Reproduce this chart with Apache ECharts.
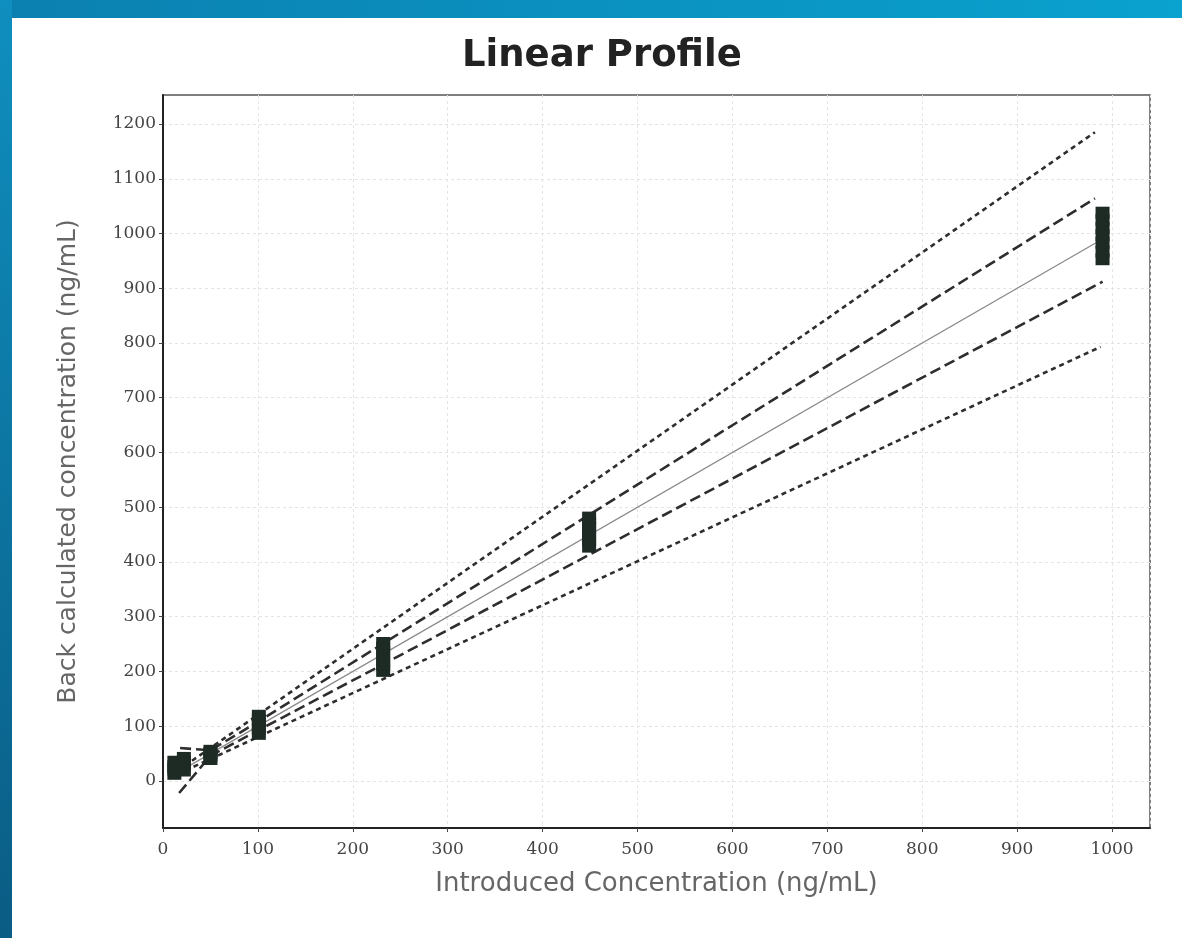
<!DOCTYPE html>
<html>
<head>
<meta charset="utf-8">
<script src="https://cdn.jsdelivr.net/npm/echarts@6/dist/echarts.min.js"></script>
<style>
html,body{margin:0;padding:0;background:#fff;}
#chart{width:1182px;height:938px;}
</style>
</head>
<body>
<div id="chart"></div>
<script>
// ---- data ----
const xTickLabels = [0, 100, 200, 300, 400, 500, 600, 700, 800, 900, 1000];
const yTickLabels = [0, 100, 200, 300, 400, 500, 600, 700, 800, 900, 1000, 1100, 1200];

// back-calculated replicates per introduced level: [introduced, backCalculated]
const replicates = [
  [12, 13], [12, 21], [12, 27], [12, 35],
  [22, 19], [22, 29], [22, 36], [22, 42],
  [50, 40], [50, 46], [50, 51], [50, 55],
  [101, 86], [101, 95], [101, 103], [101, 111], [101, 119],
  [232, 201], [232, 212], [232, 221], [232, 233], [232, 243], [232, 252],
  [449, 428], [449, 440], [449, 449], [449, 462], [449, 471], [449, 481],
  [990, 953], [990, 967], [990, 983], [990, 997], [990, 1010], [990, 1025], [990, 1038]
];

// identity (regression) line
const identityLine = [[12, 12], [985, 985]];
// inner (tolerance) limits, long dashes
const upperTolerance = [[18, 60], [50, 56], [101, 109], [232, 251], [449, 486], [982, 1064]];
const lowerTolerance = [[17, -22], [50, 46], [101, 93], [232, 213], [449, 413], [990, 912]];
// outer (acceptance) limits, short dashes
const upperAcceptance = [[15, 18], [982, 1185]];
const lowerAcceptance = [[15, 12], [988, 793]];

const chart = echarts.init(document.getElementById('chart'));
const lineDark = '#2e2e2e';

chart.setOption({
  backgroundColor: '#ffffff',
  animation: false,
  graphic: [
    {type: 'rect', left: 0, top: 0, shape: {width: 1182, height: 18}, silent: true,
     style: {fill: new echarts.graphic.LinearGradient(0, 0, 1, 0, [
       {offset: 0, color: '#0b80b0'}, {offset: 1, color: '#0aa2cf'}])}},
    {type: 'rect', left: 0, top: 0, shape: {width: 12, height: 938}, silent: true,
     style: {fill: new echarts.graphic.LinearGradient(0, 0, 0, 1, [
       {offset: 0, color: '#0f8fbf'}, {offset: 1, color: '#0a5c84'}])}}
  ],
  title: {
    text: 'Linear Profile',
    left: 457,
    top: 33,
    textStyle: {fontFamily: 'DejaVu Sans', fontWeight: 'bold', fontSize: 37, color: '#222'}
  },
  grid: {
    left: 163, right: 32, top: 95, bottom: 110,
    show: true, borderColor: '#555', borderWidth: 1.5, backgroundColor: '#fff'
  },
  xAxis: {
    type: 'value',
    min: 0, max: 1040, interval: 100,
    name: 'Introduced Concentration (ng/mL)',
    nameLocation: 'middle', nameGap: 43,
    nameTextStyle: {fontFamily: 'DejaVu Sans', fontSize: 26, color: '#666'},
    axisLine: {show: true, onZero: false, lineStyle: {color: '#222', width: 2}},
    axisTick: {show: true, length: 4, lineStyle: {color: '#444'}},
    axisLabel: {
      showMaxLabel: false, margin: 13,
      fontFamily: 'DejaVu Serif', fontSize: 17, color: '#444',
      formatter: v => (xTickLabels.indexOf(v) >= 0 ? String(v) : '')
    },
    splitLine: {show: true, lineStyle: {color: '#e4e4e4', type: [3, 3], width: 1}}
  },
  yAxis: {
    type: 'value',
    min: -86, max: 1253,
    name: 'Back calculated concentration (ng/mL)',
    nameLocation: 'middle', nameGap: 82,
    nameTextStyle: {fontFamily: 'DejaVu Sans', fontSize: 25, color: '#666'},
    axisLine: {show: true, onZero: false, lineStyle: {color: '#222', width: 2}},
    axisTick: {show: true, length: 4, lineStyle: {color: '#444'}, customValues: yTickLabels},
    axisLabel: {
      margin: 7, customValues: yTickLabels,
      fontFamily: 'DejaVu Serif', fontSize: 17, color: '#444',
      formatter: v => String(v)
    },
    splitLine: {show: true, lineStyle: {color: '#e4e4e4', type: [3, 3], width: 1}}
  },
  series: [
    {type: 'line', data: upperAcceptance, symbol: 'none', z: 3,
     lineStyle: {color: lineDark, width: 2.6, type: [5, 4]}},
    {type: 'line', data: lowerAcceptance, symbol: 'none', z: 3,
     lineStyle: {color: lineDark, width: 2.6, type: [5, 4]}},
    {type: 'line', data: upperTolerance, symbol: 'none', z: 3,
     lineStyle: {color: lineDark, width: 2.6, type: [11, 5]}},
    {type: 'line', data: lowerTolerance, symbol: 'none', z: 3,
     lineStyle: {color: lineDark, width: 2.6, type: [11, 5]}},
    {type: 'line', data: identityLine, symbol: 'none', z: 3,
     lineStyle: {color: '#8a8a8a', width: 1.3}},
    {type: 'scatter', data: replicates, symbol: 'rect', symbolSize: [14, 12], z: 4,
     itemStyle: {color: '#1e2a24', opacity: 1}}
  ]
});
</script>
</body>
</html>
